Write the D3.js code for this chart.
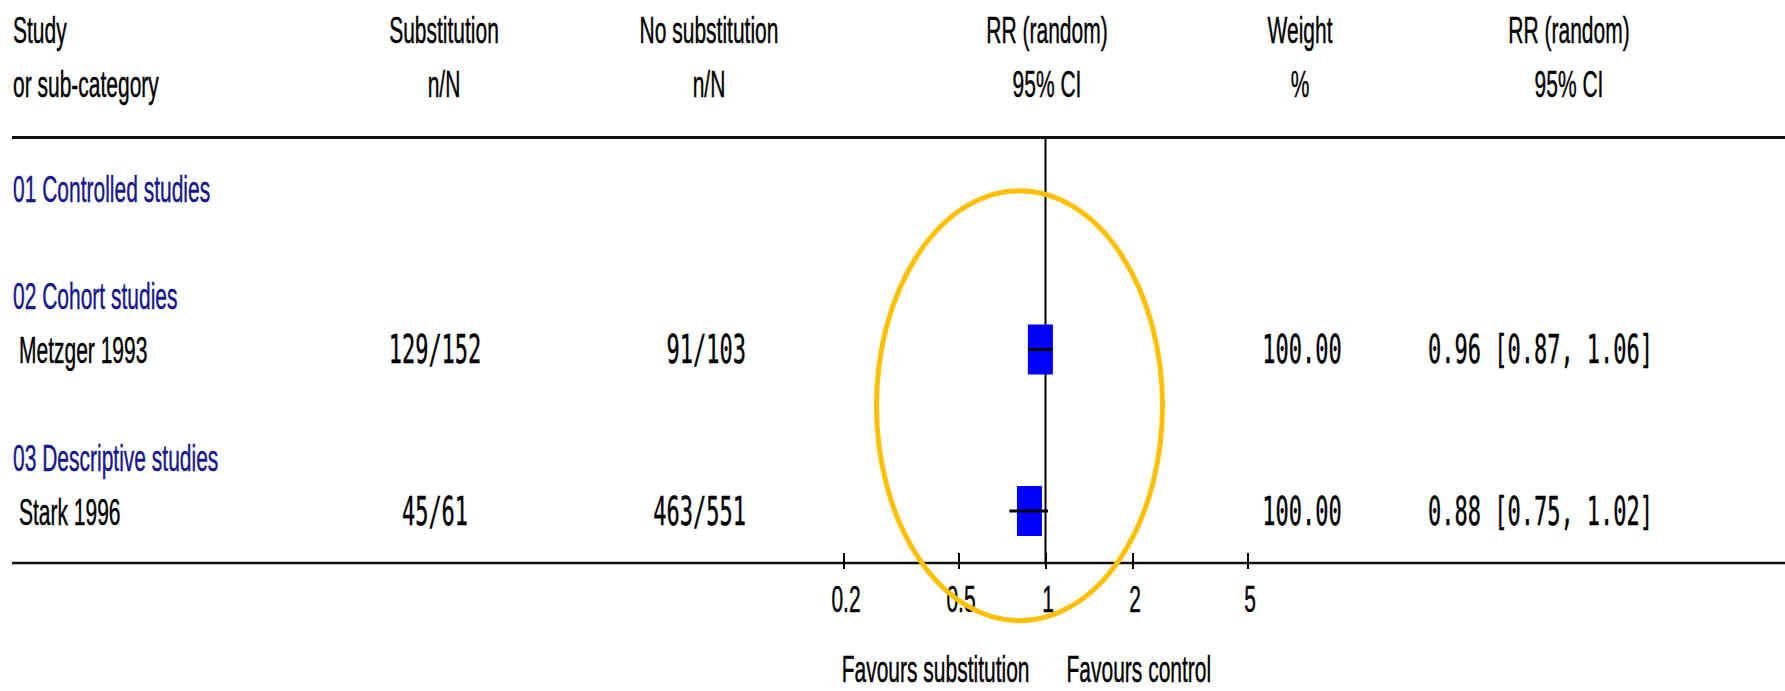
<!DOCTYPE html>
<html>
<head>
<meta charset="utf-8">
<script src="https://cdn.jsdelivr.net/npm/d3@7/dist/d3.min.js"></script>
<style>
  html, body { margin: 0; padding: 0; background: #fff; }
  svg { display: block; }
</style>
</head>
<body>
<script>
// ---- data ----
const groups = ["01 Controlled studies", "02 Cohort studies", "03 Descriptive studies"];
const studies = ["Metzger 1993", "Stark 1996"];
const studyGroup = [1, 2];
const treatment = ["129/152", "45/61"];
const control = ["91/103", "463/551"];
const rr = [0.96, 0.88];
const ciLow = [0.87, 0.75];
const ciHigh = [1.06, 1.02];
const weight = [100.00, 100.00];
const tickValues = [0.2, 0.5, 1, 2, 5];
const tickLabels = ["0.2", "0.5", "1", "2", "5"];
const headers = [
  ["Study", "or sub-category"],
  ["Substitution", "n/N"],
  ["No substitution", "n/N"],
  ["RR (random)", "95% CI"],
  ["Weight", "%"],
  ["RR (random)", "95% CI"]
];
const favours = ["Favours substitution", "Favours control"];

// ---- layout ----
const W = 1785, H = 691;
const SY = 1.8;                 // vertical stretch of the text
const SANS = "'Liberation Sans', Arial, sans-serif";
const MONO = "'DejaVu Sans Mono', monospace";
const NAVY = "#16168a";

const svg = d3.select("body").append("svg")
  .attr("width", W).attr("height", H);

const x = d3.scaleLog().domain([0.2, 5]).range([843.5, 1247.5]);

// table rows: each group heading, its studies, then a blank spacer row
const rows = [];
groups.forEach((g, gi) => {
  if (gi > 0) rows.push({ type: "blank" });
  rows.push({ type: "group", label: g });
  studies.forEach((s, si) => {
    if (studyGroup[si] === gi) rows.push({ type: "study", i: si });
  });
});
const y = d3.scaleLinear().domain([0, rows.length - 1]).range([188, 511]);
rows.forEach((r, k) => r.y = y(k));

const lineTop = 137.5, axisY = 563, left = 12;

function label(g, tx, ty, text, o) {
  o = o || {};
  return g.append("text")
    .attr("transform", `translate(${tx},${ty}) scale(1,${SY})`)
    .attr("text-anchor", o.anchor || "start")
    .attr("font-family", o.font || SANS)
    .attr("font-size", o.size || 21)
    .attr("fill", o.fill || "#000")
    .attr("stroke", o.fill || "#000")
    .attr("stroke-width", 0.25)
    .text(text);
}

// ---- header ----
const headX = [13, 444, 709, 1047, 1300, 1569];
const hg = svg.append("g");
headers.forEach((h, i) => {
  const a = i === 0 ? "start" : "middle";
  label(hg, headX[i], 43, h[0], { anchor: a });
  label(hg, headX[i], 97, h[1], { anchor: a });
});

// rules
svg.append("line").attr("x1", left).attr("x2", W)
  .attr("y1", lineTop).attr("y2", lineTop)
  .attr("stroke", "#111").attr("stroke-width", 3);

svg.append("line").attr("x1", x(1)).attr("x2", x(1))
  .attr("y1", lineTop).attr("y2", axisY)
  .attr("stroke", "#000").attr("stroke-width", 2);

svg.append("line").attr("x1", left).attr("x2", W)
  .attr("y1", axisY).attr("y2", axisY)
  .attr("stroke", "#111").attr("stroke-width", 2.5);

// ---- rows ----
const tg = svg.append("g");
const size = d3.scaleSqrt().domain([0, 100]).range([0, 25]);
const TXT = 13.5; // baseline offset from row centre

rows.forEach(r => {
  if (r.type === "group") {
    label(tg, 13, r.y + TXT, r.label, { fill: NAVY });
  } else if (r.type === "study") {
    const i = r.i;
    label(tg, 19, r.y + TXT, studies[i]);
    label(tg, 435, r.y + TXT, treatment[i], { anchor: "middle", font: MONO, size: 22 });
    label(tg, 746, r.y + TXT, control[i], { anchor: "end", font: MONO, size: 22 });
    label(tg, 1302, r.y + TXT, weight[i].toFixed(2), { anchor: "middle", font: MONO, size: 22 });
    label(tg, 1428, r.y + TXT,
      `${rr[i].toFixed(2)} [${ciLow[i].toFixed(2)}, ${ciHigh[i].toFixed(2)}]`,
      { font: MONO, size: 22 });
  }
});

// effect boxes and confidence intervals
const studyRows = rows.filter(r => r.type === "study");
svg.append("g").selectAll("rect").data(studyRows).join("rect")
  .attr("x", r => x(rr[r.i]) - size(weight[r.i]) / 2)
  .attr("y", r => r.y - size(weight[r.i]))
  .attr("width", r => size(weight[r.i]))
  .attr("height", r => size(weight[r.i]) * 2)
  .attr("fill", "#0000ff");

svg.append("g").selectAll("line").data(studyRows).join("line")
  .attr("x1", r => x(ciLow[r.i])).attr("x2", r => x(ciHigh[r.i]))
  .attr("y1", r => r.y).attr("y2", r => r.y)
  .attr("stroke", "#000").attr("stroke-width", 3);

// ---- axis ----
const axis = d3.axisBottom(x)
  .tickValues(tickValues)
  .tickFormat((d, i) => tickLabels[i]);
const ag = svg.append("g").attr("transform", `translate(0,${axisY})`).call(axis);
ag.select(".domain").remove();
ag.selectAll(".tick line")
  .attr("y1", -10).attr("y2", 6)
  .attr("stroke", "#000").attr("stroke-width", 2);
ag.selectAll(".tick text")
  .attr("y", null).attr("dy", null)
  .attr("transform", `translate(2,48.5) scale(1,${SY})`)
  .attr("font-family", SANS).attr("font-size", 21)
  .attr("fill", "#000").attr("stroke", "#000").attr("stroke-width", 0.25);

label(svg, x(1) - 16, 681.5, favours[0], { anchor: "end" });
label(svg, x(1) + 21, 681.5, favours[1]);

// highlight ring around the plotted estimates
svg.append("ellipse")
  .attr("cx", 1019.5).attr("cy", 405.8)
  .attr("rx", 143).attr("ry", 215)
  .attr("fill", "none")
  .attr("stroke", "#ffc000").attr("stroke-width", 5);
</script>
</body>
</html>
